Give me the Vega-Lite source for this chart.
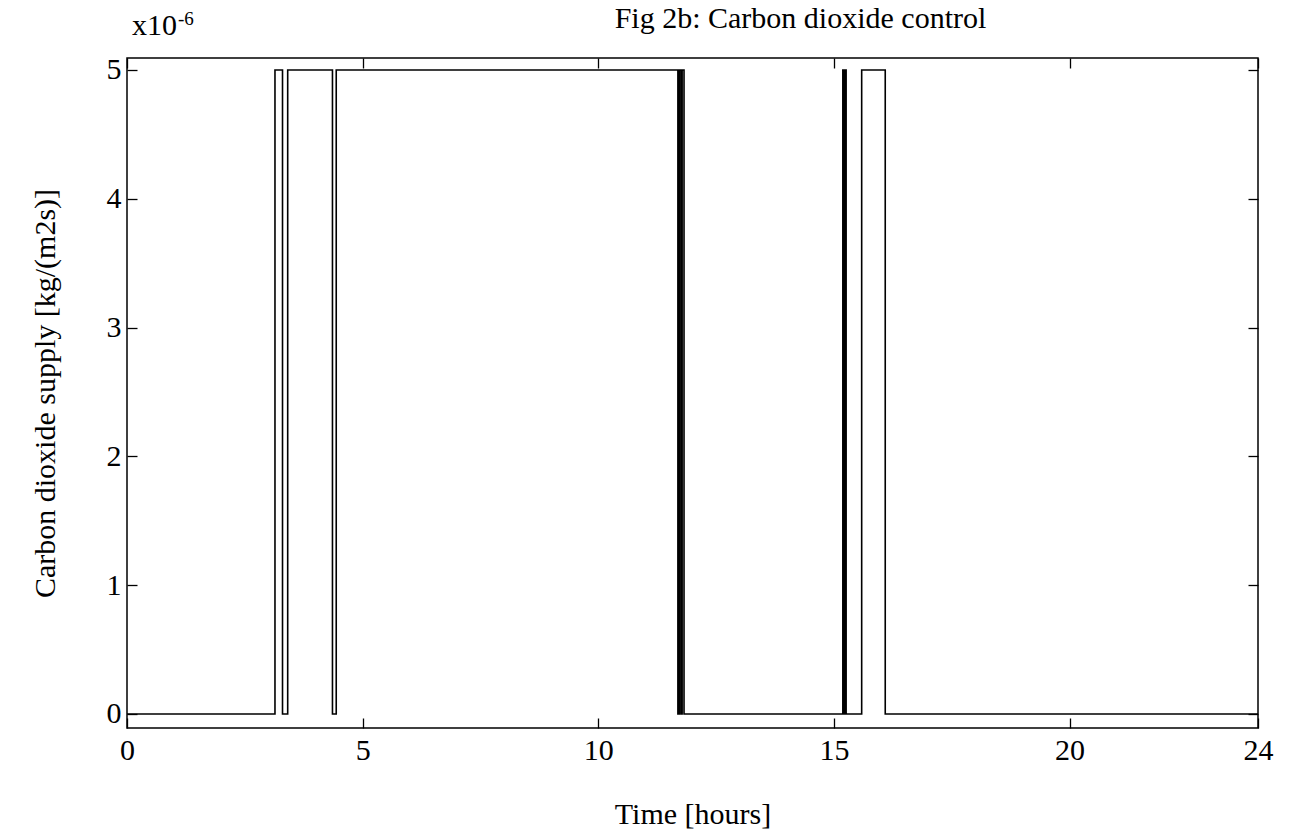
{
  "$schema": "https://vega.github.io/schema/vega-lite/v6.json",
  "width": 1131,
  "height": 670,
  "autosize": {"type": "none"},
  "padding": {"left": 127, "top": 58, "right": 31, "bottom": 109},
  "background": "white",
  "title": {
    "text": "Fig 2b: Carbon dioxide control",
    "font": "Liberation Serif",
    "fontSize": 30,
    "fontWeight": "normal",
    "color": "black",
    "anchor": "middle",
    "dx": 108,
    "offset": 0,
    "dy": 24
  },
  "config": {
    "view": {"stroke": "black", "strokeWidth": 1.5},
    "font": "Liberation Serif",
    "axis": {
      "domain": false,
      "grid": false,
      "tickColor": "black",
      "tickWidth": 1.3,
      "tickSize": -10,
      "labelFont": "Liberation Serif",
      "labelFontSize": 30,
      "labelColor": "black",
      "titleFont": "Liberation Serif",
      "titleFontSize": 30,
      "titleFontWeight": "normal",
      "titleColor": "black"
    }
  },
  "resolve": {"axis": {"x": "independent", "y": "independent"}},
  "layer": [
    {
      "data": {
        "values": [
          {"time_h": 0, "supply": 0},
          {"time_h": 3.14, "supply": 5},
          {"time_h": 3.30, "supply": 0},
          {"time_h": 3.41, "supply": 5},
          {"time_h": 4.36, "supply": 0},
          {"time_h": 4.44, "supply": 5},
          {"time_h": 11.69, "supply": 0},
          {"time_h": 11.72, "supply": 5},
          {"time_h": 11.755, "supply": 0},
          {"time_h": 11.78, "supply": 5},
          {"time_h": 11.82, "supply": 0},
          {"time_h": 15.19, "supply": 5},
          {"time_h": 15.22, "supply": 0},
          {"time_h": 15.23, "supply": 5},
          {"time_h": 15.26, "supply": 0},
          {"time_h": 15.59, "supply": 5},
          {"time_h": 16.09, "supply": 0},
          {"time_h": 24, "supply": 0}
        ]
      },
      "mark": {"type": "line", "interpolate": "step-after", "color": "black", "strokeWidth": 1.6},
      "encoding": {
        "x": {
          "field": "time_h",
          "type": "quantitative",
          "scale": {"domain": [0, 24], "nice": false, "zero": false},
          "axis": {
            "orient": "bottom",
            "values": [0, 5, 10, 15, 20, 24],
            "format": "d",
            "labelPadding": 17,
            "labelFlush": false,
            "title": "Time [hours]",
            "titlePadding": 34
          }
        },
        "y": {
          "field": "supply",
          "type": "quantitative",
          "scale": {"domain": [-0.109, 5.093], "nice": false, "zero": false},
          "axis": {
            "orient": "left",
            "values": [0, 1, 2, 3, 4, 5],
            "format": "d",
            "labelPadding": 16,
            "title": "Carbon dioxide supply [kg/(m2s)]",
            "titlePadding": 46
          }
        }
      }
    },
    {
      "data": {"values": [{"label": "x10"}]},
      "mark": {"type": "text", "align": "left", "baseline": "alphabetic", "fontSize": 30, "font": "Liberation Serif", "color": "black", "dx": 5, "dy": -23},
      "encoding": {
        "x": {
          "datum": 0,
          "type": "quantitative",
          "scale": {"domain": [0, 24], "nice": false, "zero": false},
          "axis": {"orient": "top", "values": [0, 5, 10, 15, 20, 24], "labels": false, "title": null}
        },
        "y": {
          "datum": 5.093,
          "type": "quantitative",
          "scale": {"domain": [-0.109, 5.093], "nice": false, "zero": false},
          "axis": {"orient": "right", "values": [0, 1, 2, 3, 4, 5], "labels": false, "title": null}
        },
        "text": {"field": "label", "type": "nominal"}
      }
    },
    {
      "data": {"values": [{"label": "-6"}]},
      "mark": {"type": "text", "align": "left", "baseline": "alphabetic", "fontSize": 19, "font": "Liberation Serif", "color": "black", "dx": 51, "dy": -33},
      "encoding": {
        "x": {"datum": 0, "type": "quantitative", "scale": {"domain": [0, 24], "nice": false, "zero": false}, "axis": null},
        "y": {"datum": 5.093, "type": "quantitative", "scale": {"domain": [-0.109, 5.093], "nice": false, "zero": false}, "axis": null},
        "text": {"field": "label", "type": "nominal"}
      }
    }
  ]
}
